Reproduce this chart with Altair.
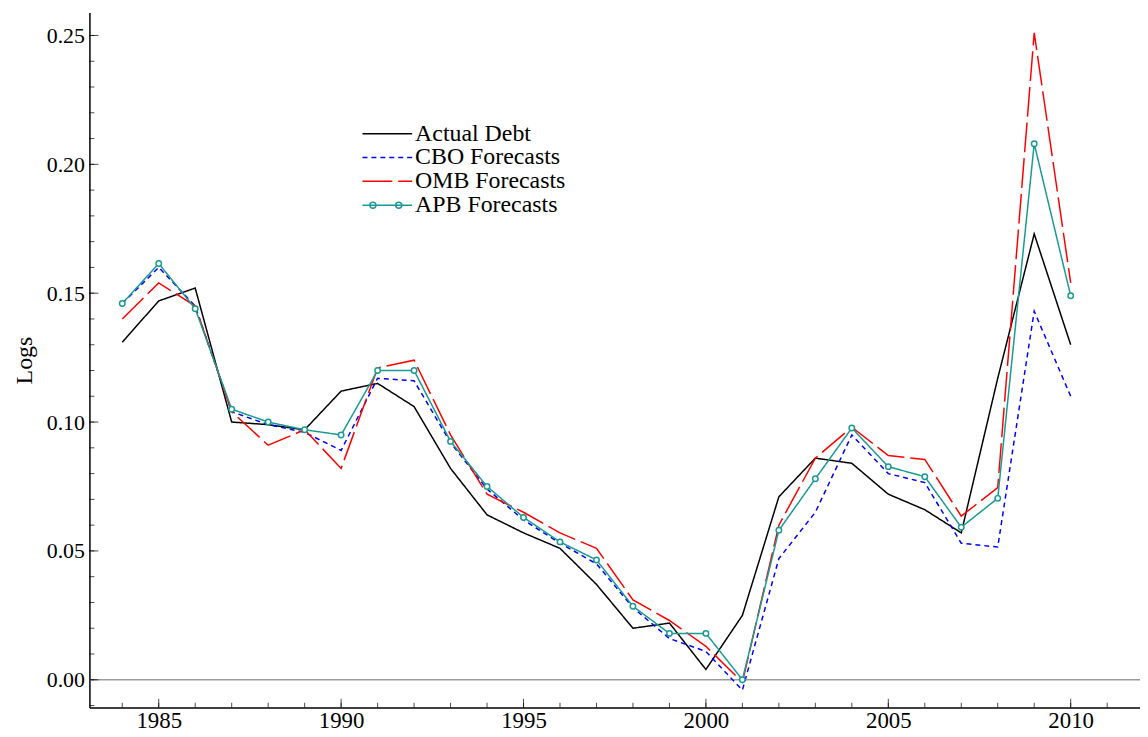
import altair as alt
import pandas as pd

years = list(range(1984, 2011))
actual = [0.131, 0.147, 0.152, 0.100, 0.099, 0.097, 0.112, 0.115, 0.106, 0.082,
          0.064, 0.057, 0.051, 0.037, 0.020, 0.022, 0.004, 0.025, 0.071, 0.086,
          0.084, 0.072, 0.066, 0.057, 0.117, 0.173, 0.130]
cbo = [0.146, 0.160, 0.145, 0.104, 0.099, 0.096, 0.089, 0.117, 0.116, 0.092,
       0.074, 0.062, 0.053, 0.045, 0.028, 0.016, 0.011, -0.004, 0.047, 0.065,
       0.095, 0.080, 0.0765, 0.053, 0.0515, 0.143, 0.110]
omb = [0.140, 0.154, 0.145, 0.104, 0.091, 0.097, 0.082, 0.121, 0.124, 0.095,
       0.072, 0.065, 0.057, 0.051, 0.031, 0.023, 0.013, -0.001, 0.060, 0.086,
       0.098, 0.087, 0.0855, 0.0635, 0.0746, 0.251, 0.154]
apb = [0.146, 0.1615, 0.144, 0.105, 0.100, 0.097, 0.095, 0.120, 0.120, 0.0925,
       0.075, 0.063, 0.0535, 0.0465, 0.0285, 0.018, 0.018, 0.000, 0.058, 0.078,
       0.0977, 0.0827, 0.0788, 0.0592, 0.0704, 0.208, 0.149]

series_names = ["Actual Debt", "CBO Forecasts", "OMB Forecasts", "APB Forecasts"]
series_values = [actual, cbo, omb, apb]
series_colors = ["#000000", "#0000ff", "#ff0000", "#199a93"]
series_dashes = [[1, 0], [5, 4], [30, 6], [1, 0]]

x_major = [1985, 1990, 1995, 2000, 2005, 2010]
x_minor = list(range(1984, 2012))
y_major = [0.00, 0.05, 0.10, 0.15, 0.20, 0.25]
y_minor = [round(0.01 * i, 2) for i in range(-1, 26)]

rows = []
for name, vals in zip(series_names, series_values):
    for yr, v in zip(years, vals):
        rows.append({"year": yr, "value": v, "series": name})
df = pd.DataFrame(rows)

FONT = "Liberation Serif"
TEAL = series_colors[3]
W, H = 1058, 700

xs = alt.Scale(domain=[1983.1, 2011.9], nice=False, zero=False)
ys = alt.Scale(domain=[-0.0108, 0.2589], nice=False, zero=False)

x_enc = alt.X("year:Q", scale=xs, axis=alt.Axis(
    values=x_major, format="d", ticks=False, grid=False, title=None,
    labelFont=FONT, labelFontSize=23, labelColor="black", labelPadding=2,
    domainColor="black", domainWidth=1.5, labelFlush=False))
y_enc = alt.Y("value:Q", scale=ys, axis=alt.Axis(
    values=y_major, format=".2f", ticks=False, grid=False, title="Logs",
    titleFont=FONT, titleFontSize=24, titleFontWeight="normal", titleColor="black",
    titlePadding=10, labelFont=FONT, labelFontSize=22, labelColor="black",
    labelPadding=5, domainColor="black", domainWidth=1.5))

LEG_X, LEG_Y, ROW = 288, 110, 24
legend_common = dict(
    title=None, orient="none", legendX=LEG_X, legendY=LEG_Y,
    symbolType="M-5,0H5", symbolSize=100, symbolStrokeWidth=1.5,
    labelFont=FONT, labelFontSize=24, labelColor="black", labelOffset=16,
    rowPadding=0, padding=0)

color_enc = alt.Color("series:N", scale=alt.Scale(domain=series_names, range=series_colors),
                      legend=alt.Legend(**legend_common))
dash_enc = alt.StrokeDash("series:N", scale=alt.Scale(domain=series_names, range=series_dashes),
                          legend=alt.Legend(**legend_common))

layers = []

zero = alt.Chart(pd.DataFrame({"value": [0.0]})).mark_rule(
    color="#9a9a9a", strokeWidth=1.5).encode(y=y_enc)
layers.append(zero)

for name in series_names:
    layers.append(
        alt.Chart(df).transform_filter(alt.datum.series == name)
        .mark_line(strokeWidth=1.5)
        .encode(x=x_enc, y=y_enc, color=color_enc, strokeDash=dash_enc)
    )

pts = alt.Chart(df).transform_filter(alt.datum.series == "APB Forecasts").mark_point(
    shape="circle", filled=True, fill="white", stroke=TEAL, strokeWidth=1.5,
    size=30, opacity=1).encode(x=x_enc, y=y_enc)
layers.append(pts)

circles_path = ("M-3.5,0A0.6,0.6,0,1,1,-2.3,0A0.6,0.6,0,1,1,-3.5,0Z"
                "M1.7,0A0.6,0.6,0,1,1,2.9,0A0.6,0.6,0,1,1,1.7,0Z")
leg_marks = alt.Chart(pd.DataFrame({"mk": ["APB Forecasts"]})).transform_filter(
    "datum.mk == 'none'").mark_point(
    filled=False, color=TEAL, strokeWidth=1.5, opacity=1).encode(
    shape=alt.Shape("mk:N", scale=alt.Scale(domain=["APB Forecasts"], range=[circles_path]),
                    legend=alt.Legend(title=None, orient="none", legendX=LEG_X,
                                      legendY=LEG_Y + 3 * ROW, symbolSize=100,
                                      symbolStrokeColor=TEAL,
                                      symbolStrokeWidth=1.5, labelOpacity=0,
                                      labelFont=FONT, labelFontSize=24, labelOffset=16,
                                      padding=0, zindex=3)))
layers.append(leg_marks)

xt_minor = alt.Chart(pd.DataFrame({"year": x_minor})).mark_tick(
    orient="vertical", size=5, thickness=1, color="black").encode(x=x_enc, y=alt.value(H - 2.5))
xt_major = alt.Chart(pd.DataFrame({"year": x_major})).mark_tick(
    orient="vertical", size=9, thickness=1, color="black").encode(x=x_enc, y=alt.value(H - 4.5))
yt_minor = alt.Chart(pd.DataFrame({"value": y_minor})).mark_tick(
    orient="horizontal", size=5, thickness=1, color="black").encode(y=y_enc, x=alt.value(2.5))
yt_major = alt.Chart(pd.DataFrame({"value": y_major})).mark_tick(
    orient="horizontal", size=9, thickness=1, color="black").encode(y=y_enc, x=alt.value(4.5))
layers += [xt_minor, xt_major, yt_minor, yt_major]

chart = alt.layer(*layers).properties(
    width=W, height=H,
    padding={"left": 82, "top": 2, "right": 0, "bottom": 22},
    autosize=alt.AutoSizeParams(type="none"),
    background="white",
).configure_view(stroke=None)

chart.save("out.html", embed_options={"renderer": "svg", "actions": False})
